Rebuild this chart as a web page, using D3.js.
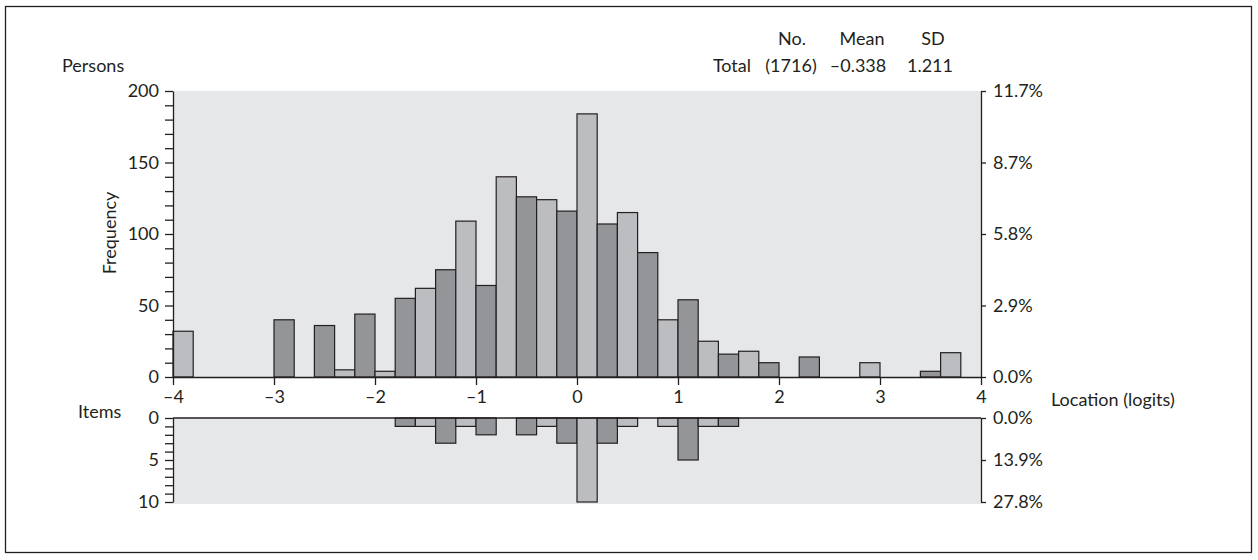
<!DOCTYPE html>
<html>
<head>
<meta charset="utf-8">
<script src="https://cdn.jsdelivr.net/npm/d3@7"></script>
<style>
  body { margin: 0; background: #fff; }
  text { font-family: Lato, "Gill Sans", sans-serif; fill: #231f20; }
</style>
</head>
<body>
<div id="container"></div>
<script>
/* CONSTANTS AND GLOBALS */
const width = 1258;
const height = 560;
const totalPersons = 1716;
const totalItems = 36;
const fontSize = 18;

// person bins (lower edge of each 0.2 logit bin) and counts
const personBins = [-4.0, -3.0, -2.6, -2.4, -2.2, -2.0, -1.8, -1.6, -1.4, -1.2, -1.0, -0.8, -0.6, -0.4, -0.2,
  0.0, 0.2, 0.4, 0.6, 0.8, 1.0, 1.2, 1.4, 1.6, 1.8, 2.2, 2.8, 3.4, 3.6];
const personCounts = [32, 40, 36, 5, 44, 4, 55, 62, 75, 109, 64, 140, 126, 124, 116,
  184, 107, 115, 87, 40, 54, 25, 16, 18, 10, 14, 10, 4, 17];

// item bins and counts
const itemBins = [-1.8, -1.6, -1.4, -1.2, -1.0, -0.6, -0.4, -0.2, 0.0, 0.2, 0.4, 0.8, 1.0, 1.2, 1.4];
const itemCounts = [1, 1, 3, 1, 2, 2, 1, 3, 10, 3, 1, 1, 5, 1, 1];

const xTicks = [-4, -3, -2, -1, 0, 1, 2, 3, 4];
const personTicks = [0, 50, 100, 150, 200];
const itemTicks = [0, 5, 10];

const binWidth = 0.2;
const light = "#bcbdc1", dark = "#939598", ink = "#231f20", panel = "#e6e7e9";

const fmtNum = d => (d < 0 ? "\u2013" + Math.abs(d) : String(d));

/* SVG */
const svg = d3.select("#container")
  .append("svg")
  .attr("width", width)
  .attr("height", height);

// outer frame
svg.append("rect")
  .attr("x", 5.5).attr("y", 6.5)
  .attr("width", 1246).attr("height", 546)
  .attr("fill", "none").attr("stroke", ink).attr("stroke-width", 1.3);

/* SCALES */
const xScale = d3.scaleLinear().domain([-4, 4]).range([173, 981]);
const yPersons = d3.scaleLinear().domain([0, 200]).range([377, 91]);
const yItems = d3.scaleLinear().domain([0, 10]).range([418, 502]);

// shade alternates per bin
const shade = b => (Math.round((b + 4) / binWidth) % 2 === 1 ? dark : light);

/* PANELS */
svg.append("rect")
  .attr("x", xScale(-4)).attr("y", yPersons(200))
  .attr("width", xScale(4) - xScale(-4)).attr("height", yPersons(0) - yPersons(200))
  .attr("fill", panel);

svg.append("rect")
  .attr("x", xScale(-4)).attr("y", yItems(0))
  .attr("width", xScale(4) - xScale(-4)).attr("height", yItems(10) - yItems(0) + 2)
  .attr("fill", panel);

/* BARS */
svg.append("g").selectAll("rect")
  .data(personBins.map((b, i) => ({ b, v: personCounts[i] })))
  .join("rect")
  .attr("x", d => xScale(d.b))
  .attr("width", d => xScale(d.b + binWidth) - xScale(d.b))
  .attr("y", d => yPersons(d.v))
  .attr("height", d => yPersons(0) - yPersons(d.v))
  .attr("fill", d => shade(d.b))
  .attr("stroke", ink)
  .attr("stroke-width", 1.2);

svg.append("g").selectAll("rect")
  .data(itemBins.map((b, i) => ({ b, v: itemCounts[i] })))
  .join("rect")
  .attr("x", d => xScale(d.b))
  .attr("width", d => xScale(d.b + binWidth) - xScale(d.b))
  .attr("y", yItems(0))
  .attr("height", d => yItems(d.v) - yItems(0))
  .attr("fill", d => shade(d.b))
  .attr("stroke", ink)
  .attr("stroke-width", 1.2);

// top line of items panel
svg.append("line")
  .attr("x1", xScale(-4)).attr("x2", xScale(4))
  .attr("y1", yItems(0)).attr("y2", yItems(0))
  .attr("stroke", ink).attr("stroke-width", 1.3);

/* AXES */
function styleAxis(g) {
  g.selectAll("path, line").attr("stroke", ink).attr("stroke-width", 1.3);
  g.selectAll("text").attr("font-size", fontSize).attr("fill", ink)
    .style("font-family", "Lato, 'Gill Sans', sans-serif");
}

svg.append("g")
  .attr("transform", `translate(0,${yPersons(0)})`)
  .call(d3.axisBottom(xScale).tickValues(xTicks).tickFormat(fmtNum)
    .tickSize(8).tickSizeOuter(0).tickPadding(5))
  .call(styleAxis);

svg.append("g")
  .attr("transform", `translate(${xScale(-4)},0)`)
  .call(d3.axisLeft(yPersons).tickValues(d3.range(0, 201, 10))
    .tickFormat(d => (personTicks.includes(d) ? d : ""))
    .tickSize(8).tickSizeOuter(0).tickPadding(6))
  .call(styleAxis);

svg.append("g")
  .attr("transform", `translate(${xScale(4)},0)`)
  .call(d3.axisRight(yPersons).tickValues(personTicks)
    .tickFormat(d => (d / totalPersons * 100).toFixed(1) + "%")
    .tickSize(5).tickSizeOuter(0).tickPadding(7))
  .call(styleAxis);

svg.append("g")
  .attr("transform", `translate(${xScale(-4)},0)`)
  .call(d3.axisLeft(yItems).tickValues(d3.range(0, 11, 1))
    .tickFormat(d => (itemTicks.includes(d) ? d : ""))
    .tickSize(8).tickSizeOuter(0).tickPadding(6))
  .call(styleAxis);

svg.append("g")
  .attr("transform", `translate(${xScale(4)},0)`)
  .call(d3.axisRight(yItems).tickValues(itemTicks)
    .tickFormat(d => (d / totalItems * 100).toFixed(1) + "%")
    .tickSize(5).tickSizeOuter(0).tickPadding(7))
  .call(styleAxis);

/* LABELS */
const label = (x, y, t, anchor) => svg.append("text")
  .attr("x", x).attr("y", y)
  .attr("text-anchor", anchor || "start")
  .attr("font-size", fontSize)
  .text(t);

label(62, 72, "Persons");
label(78, 418, "Items");
label(1051, 406, "Location (logits)");

svg.append("text")
  .attr("transform", "translate(116,233) rotate(-90)")
  .attr("text-anchor", "middle")
  .attr("font-size", fontSize)
  .text("Frequency");

// summary table
label(792, 45, "No.", "middle");
label(862, 45, "Mean", "middle");
label(933, 45, "SD", "middle");
label(751, 72, "Total", "end");
label(791, 72, "(1716)", "middle");
label(858, 72, "\u20130.338", "middle");
label(930, 72, "1.211", "middle");
</script>
</body>
</html>
